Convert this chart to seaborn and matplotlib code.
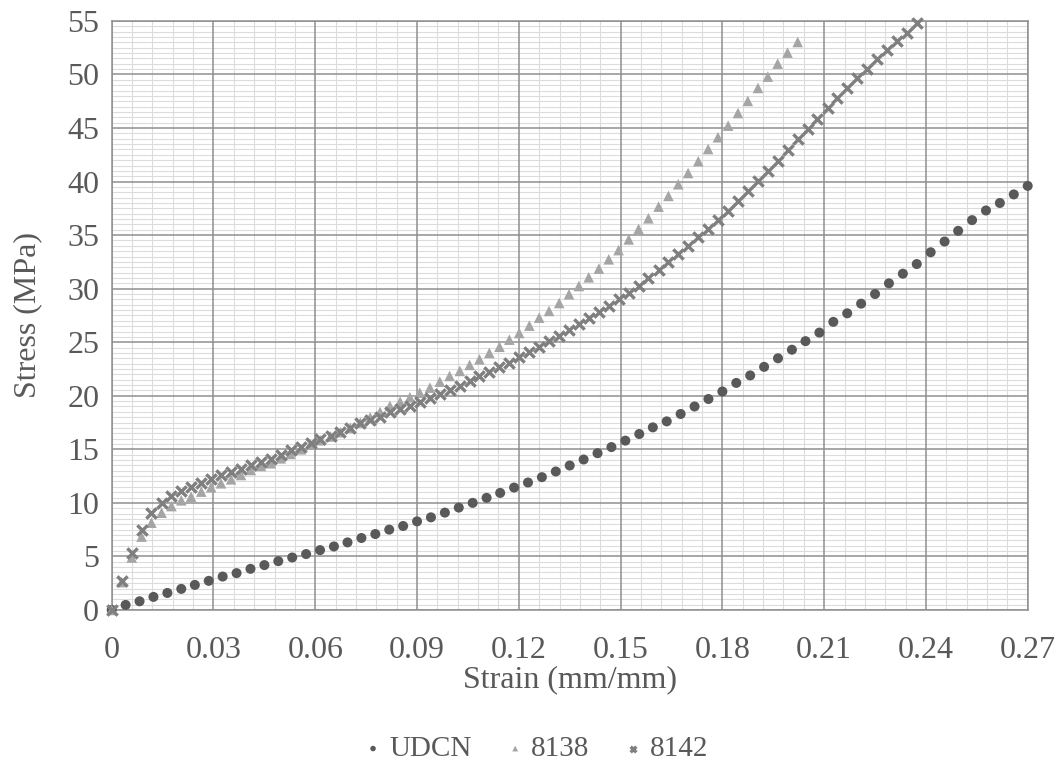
import numpy as np
import pandas as pd
import matplotlib
matplotlib.use("Agg")
import matplotlib.pyplot as plt
import seaborn as sns
from matplotlib.ticker import MultipleLocator

udcn_strain = [0, 0.0041, 0.0082, 0.0123, 0.0164, 0.0205, 0.0245, 0.0286, 0.0327, 0.0368,
               0.0409, 0.0450, 0.0491, 0.0532, 0.0573, 0.0614, 0.0655, 0.0695, 0.0736, 0.0777,
               0.0818, 0.0859, 0.0900, 0.0941, 0.0982, 0.1023, 0.1064, 0.1105, 0.1145, 0.1186,
               0.1227, 0.1268, 0.1309, 0.1350, 0.1391, 0.1432, 0.1473, 0.1514, 0.1555, 0.1595,
               0.1636, 0.1677, 0.1718, 0.1759, 0.1800, 0.1841, 0.1882, 0.1923, 0.1964, 0.2005,
               0.2045, 0.2086, 0.2127, 0.2168, 0.2209, 0.2250, 0.2291, 0.2332, 0.2373, 0.2414,
               0.2455, 0.2495, 0.2536, 0.2577, 0.2618, 0.2659, 0.2700]
udcn_stress = [0, 0.47, 0.81, 1.22, 1.59, 1.97, 2.34, 2.72, 3.12, 3.44,
               3.84, 4.19, 4.56, 4.9, 5.22, 5.59, 5.93, 6.31, 6.72, 7.09,
               7.5, 7.84, 8.27, 8.65, 9.09, 9.56, 10.0, 10.47, 10.93, 11.43,
               11.9, 12.4, 12.93, 13.49, 14.05, 14.64, 15.21, 15.81, 16.43, 17.05,
               17.61, 18.3, 19.0, 19.7, 20.4, 21.2, 21.9, 22.7, 23.5, 24.3,
               25.1, 25.9, 26.9, 27.7, 28.6, 29.5, 30.5, 31.4, 32.3, 33.4,
               34.4, 35.4, 36.4, 37.3, 38.0, 38.8, 39.6]

s8142_strain = [0, 0.0029, 0.0059, 0.0088, 0.0117, 0.0147, 0.0176, 0.0205, 0.0234, 0.0264,
                0.0293, 0.0322, 0.0352, 0.0381, 0.0410, 0.0440, 0.0469, 0.0498, 0.0527, 0.0557,
                0.0586, 0.0615, 0.0645, 0.0674, 0.0703, 0.0733, 0.0762, 0.0791, 0.0820, 0.0850,
                0.0879, 0.0908, 0.0938, 0.0967, 0.0996, 0.1026, 0.1055, 0.1084, 0.1113, 0.1143,
                0.1172, 0.1201, 0.1231, 0.1260, 0.1289, 0.1319, 0.1348, 0.1377, 0.1406, 0.1436,
                0.1465, 0.1494, 0.1524, 0.1553, 0.1582, 0.1612, 0.1641, 0.1670, 0.1699, 0.1729,
                0.1758, 0.1787, 0.1817, 0.1846, 0.1875, 0.1905, 0.1934, 0.1963, 0.1992, 0.2022,
                0.2051, 0.2080, 0.2110, 0.2139, 0.2168, 0.2198, 0.2227, 0.2256, 0.2285, 0.2315,
                0.2344, 0.2373]
s8142_stress = [0, 2.7, 5.3, 7.5, 9.1, 10.0, 10.6, 11.1, 11.45, 11.9,
                12.2, 12.6, 12.85, 13.15, 13.55, 13.85, 14.1, 14.5, 14.9, 15.19,
                15.56, 15.94, 16.25, 16.62, 16.99, 17.43, 17.71, 18.02, 18.46, 18.74,
                19.08, 19.42, 19.82, 20.2, 20.54, 20.94, 21.38, 21.85, 22.2, 22.7,
                23.1, 23.65, 24.12, 24.58, 25.12, 25.61, 26.14, 26.68, 27.24, 27.8,
                28.38, 29.07, 29.63, 30.25, 31.0, 31.75, 32.49, 33.2, 33.95, 34.8,
                35.6, 36.41, 37.28, 38.22, 39.12, 40.06, 41.02, 41.95, 42.95, 43.95,
                44.91, 45.85, 46.84, 47.81, 48.74, 49.64, 50.54, 51.48, 52.29, 53.16,
                53.9, 54.78]

s8138_strain = s8142_strain[:70]
s8138_stress = [0, 2.6, 4.9, 6.85, 8.15, 9.08, 9.7, 10.24, 10.58, 11.05,
                11.46, 11.83, 12.2, 12.6, 13.07, 13.45, 13.7, 14.16, 14.57, 15.0,
                15.45, 15.85, 16.2, 16.6, 17.0, 17.5, 17.99, 18.49, 19.05, 19.45,
                19.86, 20.29, 20.76, 21.32, 21.85, 22.32, 22.88, 23.4, 24.0, 24.58,
                25.24, 25.86, 26.55, 27.29, 27.92, 28.66, 29.48, 30.25, 31.06, 31.87,
                32.74, 33.6, 34.6, 35.57, 36.57, 37.66, 38.66, 39.75, 40.8, 41.9,
                43.04, 44.14, 45.22, 46.4, 47.53, 48.74, 49.8, 51.01, 52.04, 53.03]

xtick_labels = ["0", "0.03", "0.06", "0.09", "0.12", "0.15", "0.18", "0.21", "0.24", "0.27"]
xticks = [0, 0.03, 0.06, 0.09, 0.12, 0.15, 0.18, 0.21, 0.24, 0.27]
yticks = [0, 5, 10, 15, 20, 25, 30, 35, 40, 45, 50, 55]

sns.set_theme(style="white")
plt.rcParams['font.family'] = ['Liberation Serif', 'DejaVu Serif']

txt = "#595959"
major_c = "#8f8f8f"
fs = 23

fig = plt.figure(figsize=(10.62, 7.69), dpi=100)
ax = fig.add_axes([0.1052, 0.2068, 0.8625, 0.766])

df_u = pd.DataFrame({"Strain": udcn_strain, "Stress": udcn_stress})
df_38 = pd.DataFrame({"Strain": s8138_strain, "Stress": s8138_stress})
df_42 = pd.DataFrame({"Strain": s8142_strain, "Stress": s8142_stress})

sns.scatterplot(data=df_u, x="Strain", y="Stress", ax=ax, marker="o", s=52,
                color="#595959", edgecolor="none", label="UDCN", zorder=3, clip_on=False)
sns.scatterplot(data=df_38, x="Strain", y="Stress", ax=ax, marker="^", s=58,
                color="#a5a5a5", edgecolor="none", label="8138", zorder=3, clip_on=False)
sns.scatterplot(data=df_42, x="Strain", y="Stress", ax=ax, marker="x", s=55,
                color="#7f7f7f", linewidth=2.4, label="8142", zorder=4, clip_on=False)

ax.set_xlim(0, 0.27)
ax.set_ylim(0, 55)
ax.set_xticks(xticks)
ax.set_xticklabels(xtick_labels)
ax.set_yticks(yticks)
ax.xaxis.set_minor_locator(MultipleLocator(0.006))
ax.yaxis.set_minor_locator(MultipleLocator(0.5))

# light minor grid below, major lines drawn on top of it
ax.grid(which="minor", color="#dcdcdc", linewidth=0.8)
ax.grid(which="major", visible=False)
ax.set_axisbelow(True)
for xv in xticks:
    ax.axvline(xv, color=major_c, linewidth=1.1, zorder=1)
for yv in yticks:
    ax.axhline(yv, color=major_c, linewidth=1.1, zorder=1)
for sp in ax.spines.values():
    sp.set_color(major_c)
    sp.set_linewidth(1.1)

ax.tick_params(axis="both", which="both", length=0, labelsize=fs, labelcolor=txt)
ax.tick_params(axis="x", pad=19)
ax.tick_params(axis="y", pad=9)
ax.set_xlabel("Strain (mm/mm)", fontsize=fs, color=txt, labelpad=0)
ax.set_ylabel("Stress (MPa)", fontsize=fs, color=txt, labelpad=18)

handles, labels = ax.get_legend_handles_labels()
ax.get_legend().remove()
leg = fig.legend(handles, labels, loc="center", bbox_to_anchor=(0.502, 0.026), ncol=3,
                 frameon=False, fontsize=21, markerscale=0.55, handletextpad=0.05,
                 columnspacing=1.0, handlelength=1.0)
for t in leg.get_texts():
    t.set_color(txt)

fig.savefig("out.png", dpi=100)
